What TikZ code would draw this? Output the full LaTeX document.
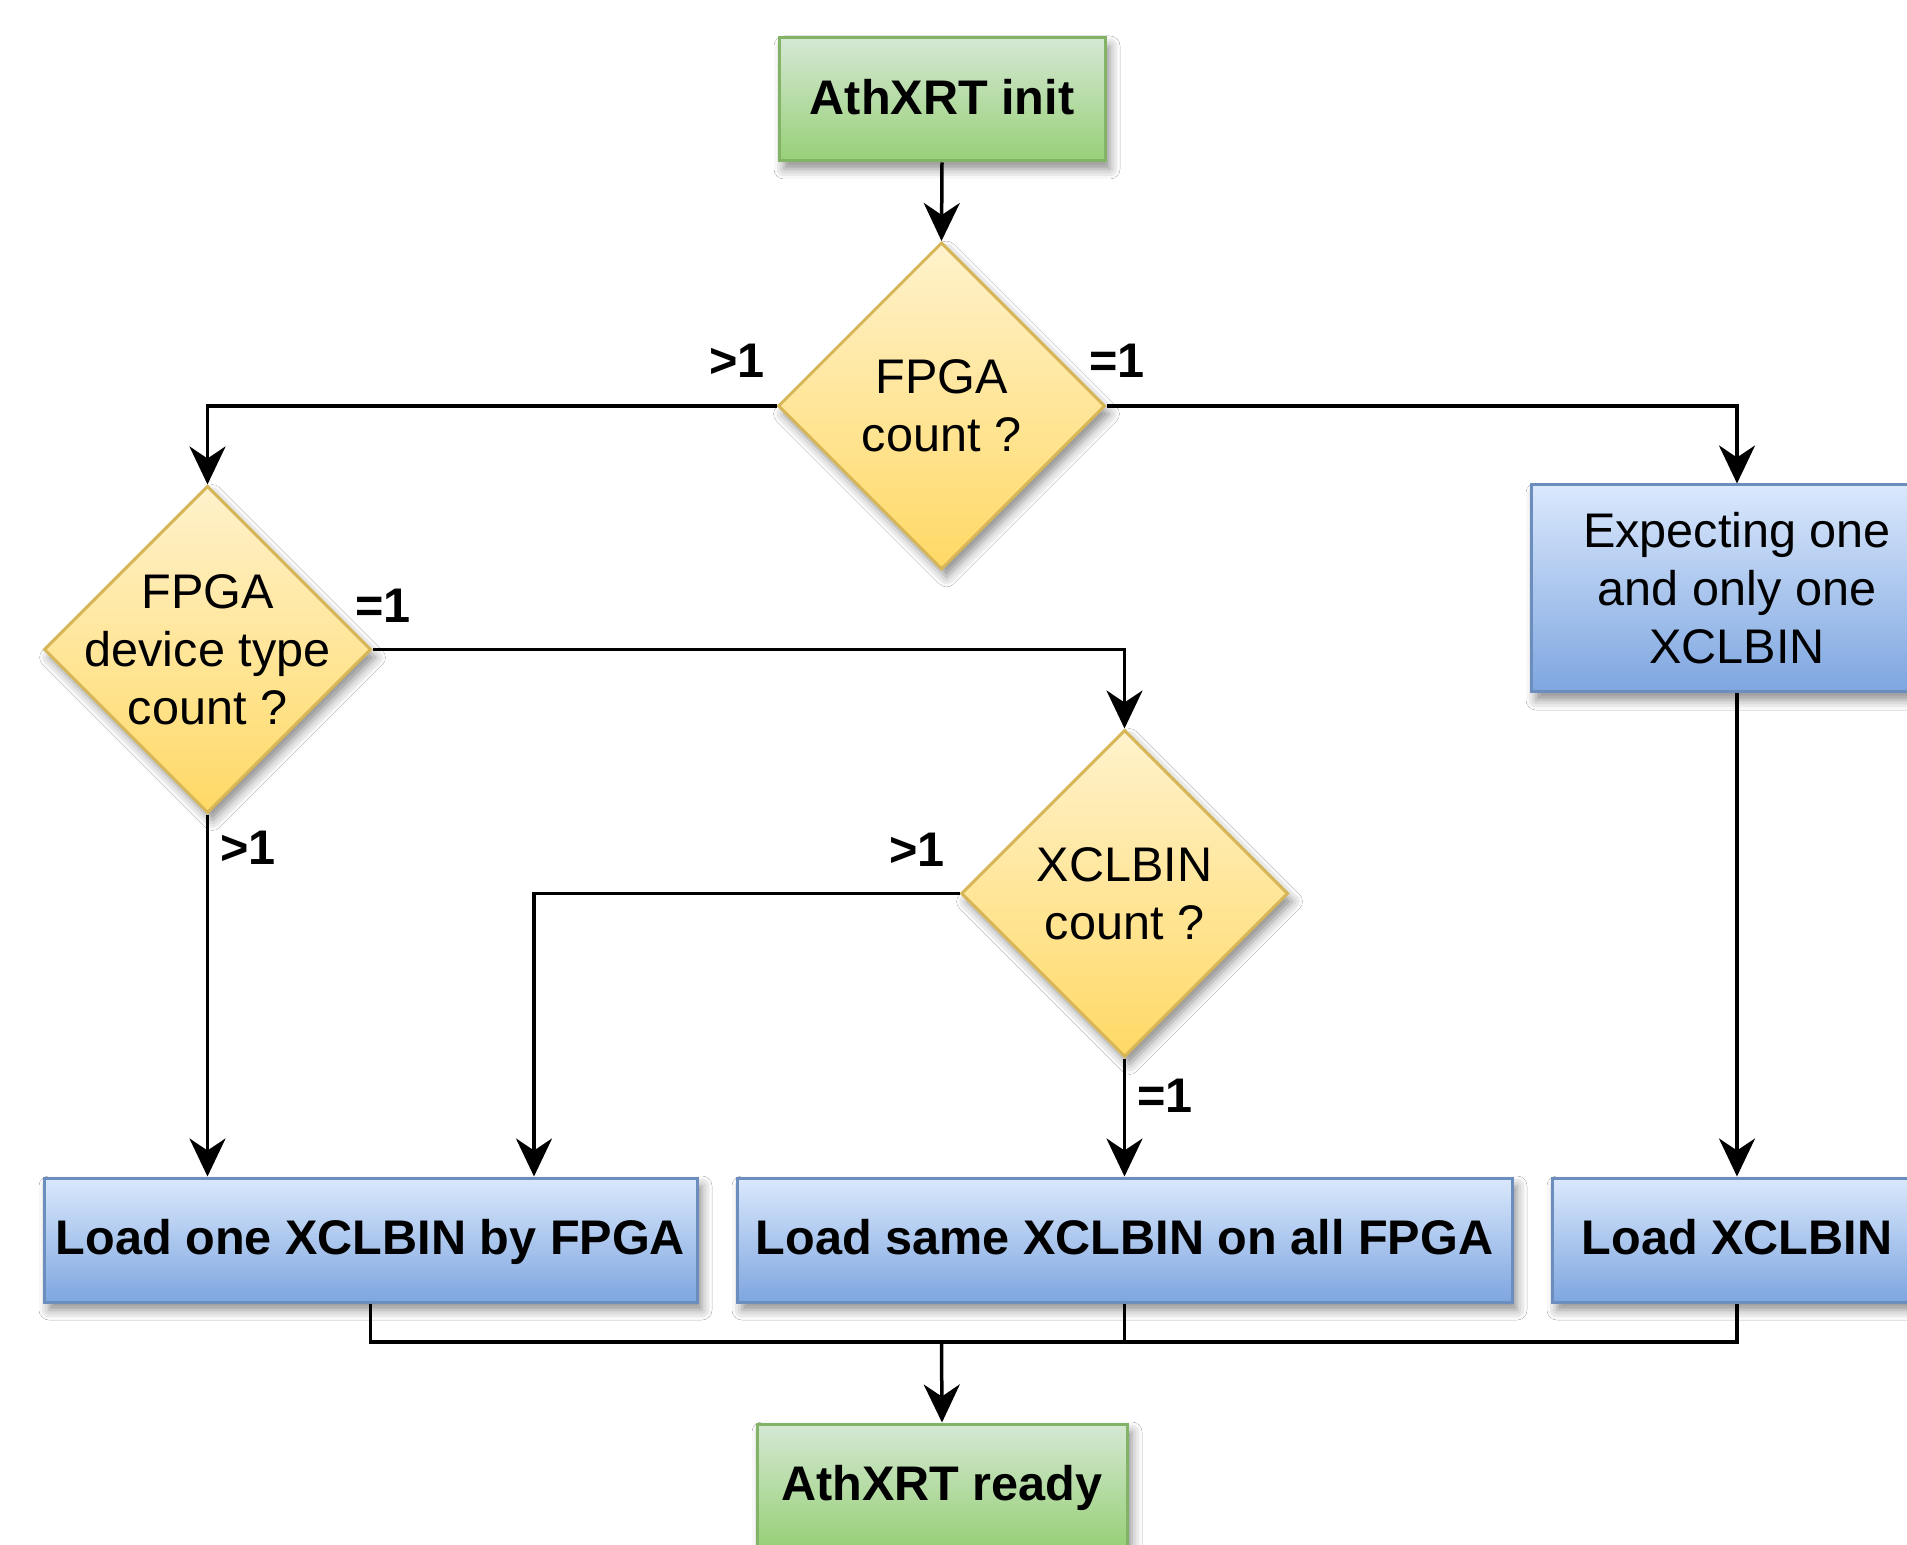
\documentclass[tikz,border=0pt]{standalone}
\usepackage{fontspec}
\setmainfont{Liberation Sans}
\usetikzlibrary{shapes.geometric,arrows.meta,shadows.blur}
\definecolor{gB}{HTML}{82B366}
\definecolor{gT}{HTML}{D5E8D4}
\definecolor{gBot}{HTML}{97D077}
\definecolor{yB}{HTML}{D6B656}
\definecolor{yT}{HTML}{FFF2CC}
\definecolor{yBot}{HTML}{FFD966}
\definecolor{bB}{HTML}{6C8EBF}
\definecolor{bT}{HTML}{DAE8FC}
\definecolor{bBot}{HTML}{7EA6E0}
\begin{document}
\begin{tikzpicture}[x=0.5pt,y=-0.5pt,
  font=\fontsize{24.3pt}{29pt}\selectfont,
  shade/.style={blur shadow={shadow xshift=2.5pt,shadow yshift=-4pt,shadow blur radius=5pt,shadow opacity=45}},
  gbox/.style={rectangle, draw=gB, line width=1.5pt, inner sep=0pt, top color=gT, bottom color=gBot, shade, font=\fontsize{24.3pt}{29pt}\selectfont\bfseries, text height=18.7pt, text depth=3.8pt},
  bbox/.style={rectangle, draw=bB, line width=1.5pt, inner sep=0pt, top color=bT, bottom color=bBot, shade, align=center},
  sbox/.style={bbox, font=\fontsize{24.3pt}{29pt}\selectfont\bfseries, text height=18.7pt, text depth=3.8pt, minimum height=62pt},
  ydia/.style={diamond, draw=yB, line width=1.5pt, inner sep=0pt, minimum width=163.5pt, minimum height=163.5pt, top color=yT, bottom color=yBot, shade},
  ln/.style={line width=1.75pt},
  arr/.style={ln, -{Stealth[length=19pt,width=18pt,inset=6pt]}},
  lbl/.style={inner sep=0pt, font=\fontsize{24.3pt}{29pt}\selectfont\bfseries}]
\useasboundingbox (0,0) rectangle (1907,1545);
\fill[white] (0,0) rectangle (1907,1545);
\clip (0,0) rectangle (1907,1545);

% nodes
\node[gbox, minimum width=163pt, minimum height=61.5pt] (init) at (942,99.5) {AthXRT init};
\node[ydia] (fpga) at (941.5,406) {};
\node[align=center] at (fpga) {FPGA\\count ?};
\node[ydia] (dev) at (207.5,649.5) {};
\node[align=center] at (dev) {FPGA\\device type\\count ?};
\node[ydia] (xcl) at (1124.5,893.5) {};
\node[align=center] at (xcl) {XCLBIN\\count ?};
\node[bbox, minimum width=206pt, minimum height=103.5pt] (exp) at (1737,588.5) {Expecting one\\and only one\\XCLBIN};
\node[sbox, minimum width=326.5pt] (one) at (370.5,1240) {Load one XCLBIN by FPGA};
\node[sbox, minimum width=387.5pt] (same) at (1124.5,1240) {Load same XCLBIN on all FPGA};
\node[sbox, minimum width=185pt] (load) at (1737,1240) {Load XCLBIN};
\node[gbox, minimum width=185pt, minimum height=61.5pt] (ready) at (942,1485.5) {AthXRT ready};

% connectors
\draw[arr] (init.south) -- (fpga.north);
\draw[arr] (fpga.west) -| (dev.north);
\draw[arr] (fpga.east) -| (exp.north);
\draw[arr] (dev.east) -| (xcl.north);
\draw[arr] (dev.south) -- (dev.south |- one.north);
\coordinate (xl) at (534,893.5);
\draw[arr] (xcl.west) -- (xl) -- (xl |- one.north);
\draw[arr] (xcl.south) -- (xcl.south |- same.north);
\draw[arr] (exp.south) -- (load.north);

\coordinate (m) at (941.5,1342);
\draw[ln] (one.south) -- (one.south |- m) -- (load.south |- m) -- (load.south);
\draw[ln] (same.south) -- (same.south |- m);
\draw[arr] (m) -- (ready.north);

% labels
\node[lbl] at (737,361) {>1};
\node[lbl] at (1117,361) {=1};
\node[lbl] at (383,606) {=1};
\node[lbl] at (248,848) {>1};
\node[lbl] at (917,850) {>1};
\node[lbl] at (1165,1096) {=1};
\end{tikzpicture}
\end{document}
